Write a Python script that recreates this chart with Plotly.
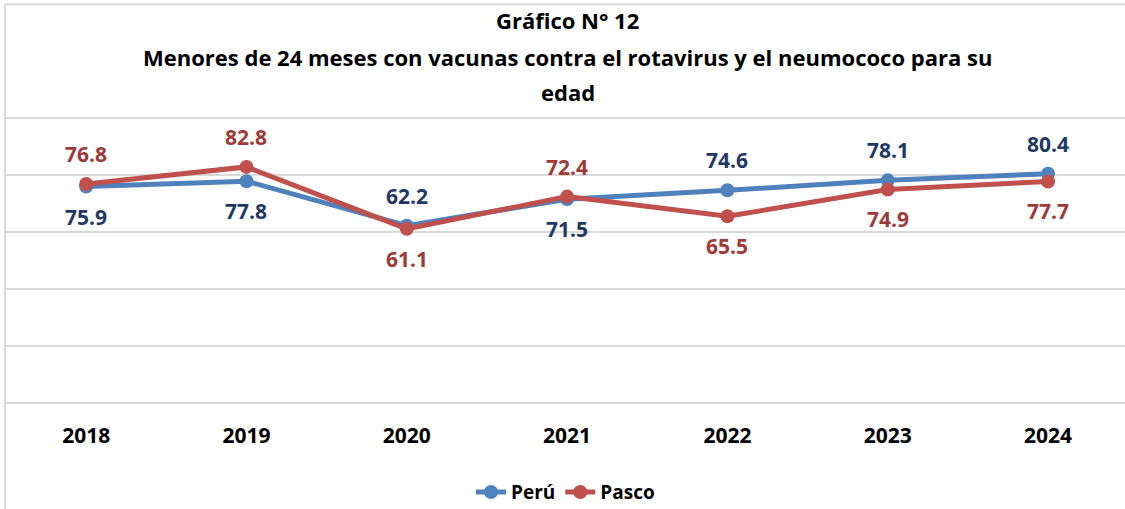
import plotly.graph_objects as go

years = ["2018", "2019", "2020", "2021", "2022", "2023", "2024"]
peru = [75.9, 77.8, 62.2, 71.5, 74.6, 78.1, 80.4]
pasco = [76.8, 82.8, 61.1, 72.4, 65.5, 74.9, 77.7]
# +1 = label above the point, -1 = below
peru_side = [-1, -1, 1, -1, 1, 1, 1]
pasco_side = [1, 1, -1, 1, -1, -1, -1]

font = "'Open Sans', sans-serif"

fig = go.Figure()
fig.add_trace(go.Scatter(
    x=years, y=peru, name="<b>Perú</b>", mode="lines+markers",
    line=dict(color="#4F81BD", width=5), marker=dict(size=14, color="#4F81BD"),
))
fig.add_trace(go.Scatter(
    x=years, y=pasco, name="<b>Pasco</b>", mode="lines+markers",
    line=dict(color="#C0504D", width=5), marker=dict(size=14, color="#C0504D"),
))

# data labels
for vals, sides, col in [(peru, peru_side, "#1F3864"), (pasco, pasco_side, "#9E3A38")]:
    for i, (v, s) in enumerate(zip(vals, sides)):
        fig.add_annotation(x=i, y=v, text=f"<b>{v}</b>", showarrow=False,
                           yshift=30 * s, xanchor="center", yanchor="middle",
                           font=dict(size=21, color=col, family=font))

title_lines = [
    ("<b>Gráfico N° 12</b>", 1.326),
    ("<b>Menores de 24 meses con vacunas contra el rotavirus y el neumococo para su</b>", 1.199),
    ("<b>edad</b>", 1.079),
]
for txt, yy in title_lines:
    fig.add_annotation(text=txt, x=0.502, y=yy, xref="paper", yref="paper",
                       showarrow=False, xanchor="center", yanchor="middle",
                       font=dict(size=22, color="black", family=font))

# outer chart frame
fig.add_shape(type="line", xref="paper", yref="paper", x0=-0.0009, x1=-0.0009,
              y0=-0.4, y1=1.381, line=dict(color="#D9D9D9", width=2))
fig.add_shape(type="line", xref="paper", yref="paper", x0=-0.0009, x1=1.01,
              y0=1.381, y1=1.381, line=dict(color="#D9D9D9", width=2))

fig.update_layout(
    width=1125, height=509,
    margin=dict(l=6, r=0, t=115, b=103, autoexpand=False),
    paper_bgcolor="white", plot_bgcolor="white",
    font=dict(family=font, color="black"),
    showlegend=True,
    legend=dict(orientation="h", x=0.5, xanchor="center", y=-0.296, yanchor="middle",
                font=dict(size=19, color="black", family=font),
                tracegroupgap=0),
    xaxis=dict(type="category", range=[-0.5, 6.48], showgrid=False, zeroline=False,
               showline=False, ticks="", tickfont=dict(size=21, color="black", family=font),
               tickprefix="<b>", ticksuffix="</b>", ticklabelstandoff=15),
    yaxis=dict(range=[-1, 101], dtick=20, showticklabels=False, showgrid=True,
               gridcolor="#D9D9D9", gridwidth=2, zeroline=False, showline=False),
)

fig.write_html("out.html", config={"displayModeBar": False},
               post_script="document.body.style.margin='0';")
